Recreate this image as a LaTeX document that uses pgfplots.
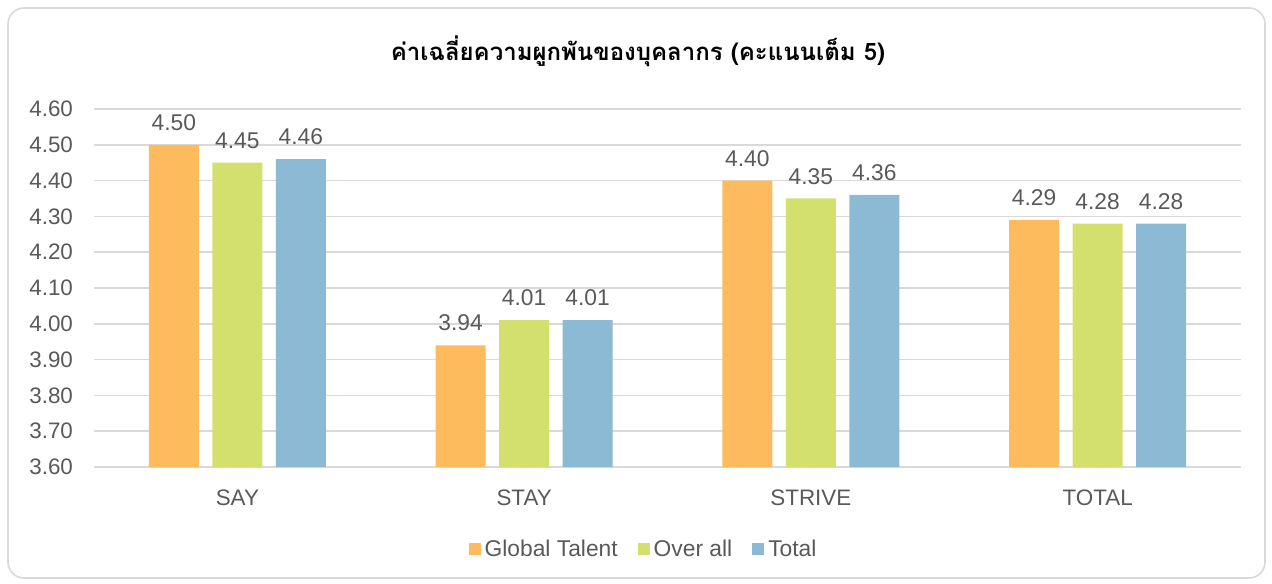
\documentclass[border=0pt]{standalone}
\usepackage{pgfplots}
\pgfplotsset{compat=1.18}
\usepackage{fontspec}
\setmainfont{Liberation Sans}
\newfontfamily\thaifont[Script=Thai]{Loma}
\definecolor{cOrange}{HTML}{FDBB5E}
\definecolor{cGreen}{HTML}{D4E06E}
\definecolor{cBlue}{HTML}{8CBAD5}
\definecolor{txt}{HTML}{595959}
\definecolor{gridc}{HTML}{D9D9D9}
\begin{document}
\begin{tikzpicture}
\useasboundingbox (0,0) rectangle (636pt,291.5pt);
\draw[gridc, line width=0.8pt, rounded corners=8pt] (4pt,2.5pt) rectangle (632.5pt,287.5pt);
\node[text=black, font=\thaifont\bfseries\fontsize{12}{14}\selectfont] at (319pt,266pt) {ค่าเฉลี่ยความผูกพันของบุคลากร (คะแนนเต็ม 5)};
\begin{axis}[
  at={(47pt,58pt)}, anchor=south west,
  width=573.5pt, height=179pt, scale only axis,
  ybar=6.75pt, bar width=25pt,
  xmin=-0.5, xmax=3.5,
  ymin=3.6, ymax=4.6,
  ytick={3.6,3.7,3.8,3.9,4.0,4.1,4.2,4.3,4.4,4.5,4.6},
  xtick=data, xticklabels={SAY,STAY,STRIVE,TOTAL},
  axis line style={draw=none},
  major tick length=0pt, tick style={draw=none},
  xmajorgrids=false, ymajorgrids=true, grid style={gridc, line width=0.8pt},
  /pgf/number format/assume math mode=true,
  yticklabel style={/pgf/number format/fixed, /pgf/number format/fixed zerofill, /pgf/number format/precision=2, text=txt, font=\fontsize{11.2}{13}\selectfont, xshift=-7pt},
  xticklabel style={text=txt, font=\fontsize{11.2}{13}\selectfont, yshift=-8pt},
  nodes near coords,
  nodes near coords style={text=txt, font=\fontsize{11.4}{13}\selectfont, /pgf/number format/fixed, /pgf/number format/fixed zerofill, /pgf/number format/precision=2, yshift=3.5pt},
  legend style={at={(0.48,-0.23)}, anchor=center, draw=none, legend columns=-1, font=\fontsize{11.4}{13}\selectfont, text=txt,
    /tikz/every even column/.append style={column sep=8pt}},
  legend image code/.code={\fill[#1] (0pt,-3pt) rectangle (6pt,3pt);},
]
\addplot[fill=cOrange, draw=none] coordinates {(0,4.50) (1,3.94) (2,4.40) (3,4.29)};
\addplot[fill=cGreen, draw=none] coordinates {(0,4.45) (1,4.01) (2,4.35) (3,4.28)};
\addplot[fill=cBlue, draw=none] coordinates {(0,4.46) (1,4.01) (2,4.36) (3,4.28)};
\legend{Global Talent, Over all, Total}
\end{axis}
\end{tikzpicture}
\end{document}
